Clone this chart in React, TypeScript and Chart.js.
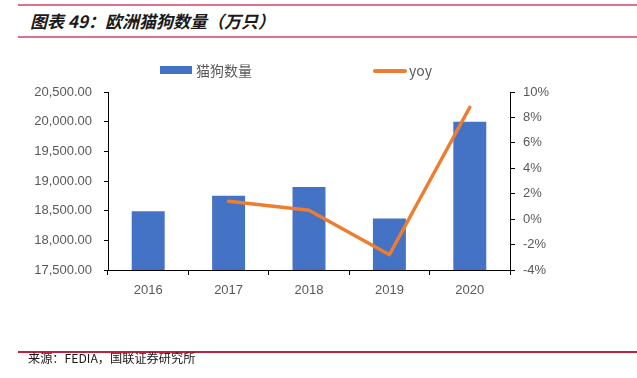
import React, { useEffect, useRef } from "react";
import { Chart, registerables } from "chart.js";
Chart.register(...registerables);

const categories = ["2016", "2017", "2018", "2019", "2020"];
const petCounts = [18490, 18750, 18900, 18370, 20000];
const yoyValues: (number | null)[] = [null, 1.4, 0.7, -2.8, 8.8];
const leftAxisRange = [17500, 20500, 500];
const rightAxisRange = [-4, 10, 2];
const titleText = "图表 49：欧洲猫狗数量（万只）";
const sourceText = "来源：FEDIA，国联证券研究所";
const barLabel = "猫狗数量";
const lineLabel = "yoy";

const BLUE = "#4472C4";
const ORANGE = "#ED7D31";
const TICK = "#595959";
const FONT = "'Liberation Sans', Arial, sans-serif";
const CJK = "'Noto Sans CJK SC', sans-serif";

export default function App() {
  const ref = useRef<HTMLCanvasElement | null>(null);

  useEffect(() => {
    if (!ref.current) return;
    const chart = new Chart(ref.current, {
      type: "bar",
      data: {
        labels: categories,
        datasets: [
          {
            type: "line",
            label: lineLabel,
            data: yoyValues,
            yAxisID: "y1",
            borderColor: ORANGE,
            backgroundColor: ORANGE,
            borderWidth: 3.5,
            pointRadius: 0,
            tension: 0,
            spanGaps: true,
            order: 0,
            borderCapStyle: "round",
            borderJoinStyle: "round",
          } as any,
          {
            type: "bar",
            label: barLabel,
            data: petCounts,
            yAxisID: "y",
            backgroundColor: BLUE,
            barPercentage: 0.41,
            categoryPercentage: 1,
            order: 1,
          },
        ],
      },
      options: {
        responsive: false,
        animation: false,
        devicePixelRatio: 1,
        layout: { padding: { left: 0, right: 0, top: 92, bottom: 0 } },
        plugins: { legend: { display: false }, tooltip: { enabled: false }, title: { display: false } },
        scales: {
          x: {
            grid: { offset: true, drawOnChartArea: false, drawTicks: true, tickLength: 5, color: "#000" },
            border: { display: true, color: "#000", width: 1 },
            ticks: { color: TICK, font: { family: FONT, size: 13 }, padding: 8 },
            afterFit: (s: any) => { s.height = 108; },
          },
          y: {
            position: "left",
            min: leftAxisRange[0],
            max: leftAxisRange[1],
            grid: { drawOnChartArea: false, drawTicks: true, tickLength: 4, color: "#000" },
            border: { display: true, color: "#000", width: 1 },
            ticks: {
              stepSize: leftAxisRange[2],
              color: TICK,
              font: { family: FONT, size: 13 },
              padding: 12,
              callback: (v: any) => Number(v).toLocaleString("en-US", { minimumFractionDigits: 2, maximumFractionDigits: 2 }),
            },
            afterFit: (s: any) => { s.width = 108; },
          },
          y1: {
            position: "right",
            min: rightAxisRange[0],
            max: rightAxisRange[1],
            grid: { drawOnChartArea: false, drawTicks: true, tickLength: 5, color: "#000" },
            border: { display: true, color: "#000", width: 1 },
            ticks: {
              stepSize: rightAxisRange[2],
              color: TICK,
              font: { family: FONT, size: 13 },
              padding: 8,
              callback: (v: any) => `${v}%`,
            },
            afterFit: (s: any) => { s.width = 127; },
          },
        },
      },
    });
    return () => chart.destroy();
  }, []);

  return (
    <div style={{ position: "fixed", left: 0, top: 0, width: 637, height: 378, background: "#fff", overflow: "hidden" }}>
      <div style={{ position: "absolute", left: 18, right: 0, top: 4, height: 2, background: "#E2708C" }} />
      <div
        style={{
          position: "absolute", left: 30, top: 9, fontFamily: CJK, fontSize: 17, fontWeight: 700,
          fontStyle: "italic", color: "#1a1a1a", whiteSpace: "nowrap", lineHeight: "24px",
        }}
      >
        {titleText}
      </div>
      <div style={{ position: "absolute", left: 18, right: 0, top: 36, height: 2, background: "#E2708C" }} />
      <canvas ref={ref} width={637} height={378} style={{ position: "absolute", left: 0, top: 0 }} />
      <div style={{ position: "absolute", left: 160, top: 66, width: 32, height: 8, background: BLUE }} />
      <div style={{ position: "absolute", left: 196, top: 60, fontFamily: CJK, fontSize: 14, color: TICK, lineHeight: "20px", whiteSpace: "nowrap" }}>
        {barLabel}
      </div>
      <div style={{ position: "absolute", left: 373, top: 69, width: 34, height: 4, borderRadius: 2, background: ORANGE }} />
      <div style={{ position: "absolute", left: 409, top: 60, fontFamily: CJK, fontSize: 14, color: TICK, lineHeight: "20px", whiteSpace: "nowrap" }}>
        {lineLabel}
      </div>
      <div style={{ position: "absolute", left: 18, right: 0, top: 351, height: 1.5, background: "#C0203C" }} />
      <div style={{ position: "absolute", left: 28, top: 350, fontFamily: CJK, fontSize: 12.2, color: "#1a1a1a", lineHeight: "16px", whiteSpace: "nowrap" }}>
        {sourceText}
      </div>
    </div>
  );
}
